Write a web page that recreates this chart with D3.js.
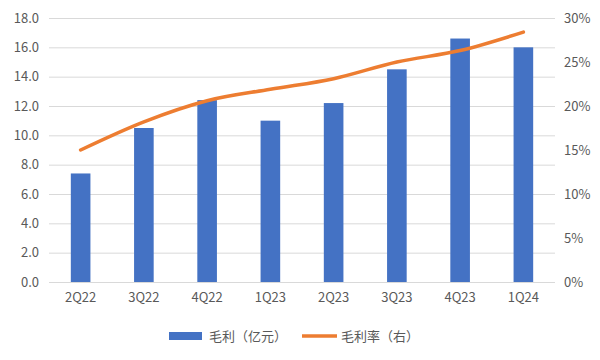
<!DOCTYPE html>
<html><head><meta charset="utf-8">
<script src="https://cdn.jsdelivr.net/npm/d3@7"></script>
<style>body{margin:0;background:#fff}svg{display:block}text{font-family:"Noto Sans CJK SC","Noto Sans",sans-serif}</style>
</head><body><svg id="c" width="600" height="360"></svg>
<script>
const categories = ["2Q22","3Q22","4Q22","1Q23","2Q23","3Q23","4Q23","1Q24"];
const grossProfit = [7.4,10.5,12.4,11.0,12.2,14.5,16.6,16.0];
const grossMargin = [15.0,18.2,20.6,21.9,23.1,25.0,26.3,28.4];
const leftTicks = [0,2,4,6,8,10,12,14,16,18];
const rightTicks = [0,5,10,15,20,25,30];
const legendLabels = ["毛利（亿元）","毛利率（右）"];

const svg = d3.select("#c");
const m = {l:49, r:45, t:18, b:78};
const W = 600, H = 360;
const x = d3.scaleBand().domain(categories).range([m.l, W-m.r]).paddingInner(0.69).paddingOuter(0.345);
const xc = d3.scaleBand().domain(categories).range([m.l, W-m.r]);
const yL = d3.scaleLinear().domain([0,18]).range([H-m.b, m.t]);
const yR = d3.scaleLinear().domain([0,30]).range([H-m.b, m.t]);
const gray = "#595959";

// grid
svg.append("g").selectAll("line").data(leftTicks).join("line")
  .attr("x1", m.l).attr("x2", W-m.r)
  .attr("y1", d=>yL(d)+0.5).attr("y2", d=>yL(d)+0.5)
  .attr("stroke", "#d9d9d9").attr("stroke-width", 1);

// left axis
const gl = svg.append("g").attr("transform",`translate(${m.l-10},0)`)
  .call(d3.axisLeft(yL).tickValues(leftTicks).tickFormat(d3.format(".1f")).tickSize(0).tickPadding(0));
gl.select(".domain").remove();
gl.selectAll("text").attr("fill", gray).style("font-size","13px");

// right axis
const gr = svg.append("g").attr("transform",`translate(${W-m.r+9},0)`)
  .call(d3.axisRight(yR).tickValues(rightTicks).tickFormat(d=>d+"%").tickSize(0).tickPadding(0));
gr.select(".domain").remove();
gr.selectAll("text").attr("fill", gray).style("font-size","13px");

// x axis
const gx = svg.append("g").attr("transform",`translate(0,${H-m.b})`)
  .call(d3.axisBottom(xc).tickSize(0).tickPadding(11));
gx.select(".domain").remove();
gx.selectAll("text").attr("fill", gray).style("font-size","13px");

// bars
svg.append("g").selectAll("rect").data(categories).join("rect")
  .attr("x", d=>x(d)).attr("width", x.bandwidth())
  .attr("y", (d,i)=>yL(grossProfit[i])).attr("height", (d,i)=>yL(0)-yL(grossProfit[i]))
  .attr("fill", "#4472c4");

// line
const line = d3.line().x((d,i)=>xc(categories[i])+xc.bandwidth()/2).y(d=>yR(d)).curve(d3.curveMonotoneX);
svg.append("path").datum(grossMargin).attr("d", line)
  .attr("fill","none").attr("stroke","#ed7d31").attr("stroke-width",3.5).attr("stroke-linecap","round");

// legend
const lg = svg.append("g");
lg.append("rect").attr("x",169).attr("y",332).attr("width",33).attr("height",8).attr("fill","#4472c4");
lg.append("text").attr("x",209).attr("y",336).attr("dy","0.35em").attr("fill",gray).style("font-size","13px").text(legendLabels[0]);
lg.append("line").attr("x1",302).attr("x2",337).attr("y1",336).attr("y2",336).attr("stroke","#ed7d31").attr("stroke-width",3.5);
lg.append("text").attr("x",341).attr("y",336).attr("dy","0.35em").attr("fill",gray).style("font-size","13px").text(legendLabels[1]);
</script></body></html>
